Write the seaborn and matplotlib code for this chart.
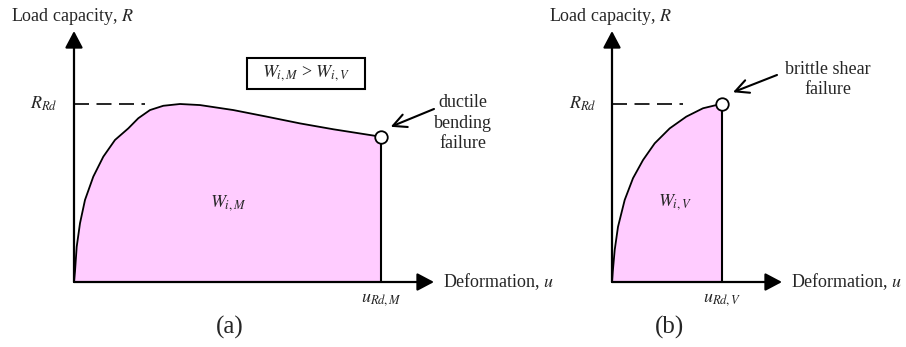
import matplotlib
matplotlib.use("Agg")
import matplotlib.pyplot as plt
from matplotlib.patches import Rectangle
import seaborn as sns

# Ductile (bending) response: deformation u and load R normalised to R_Rd
ductile_u = [0.0, 0.01, 0.027, 0.06, 0.11, 0.193, 0.293, 0.41, 0.543, 0.643, 0.76,
             0.893, 1.06, 1.26, 1.593, 1.927, 2.26, 2.593, 3.07]
ductile_R = [0.0, 0.06, 0.198, 0.33, 0.461, 0.592, 0.704, 0.798, 0.863, 0.92, 0.966,
             0.99, 1.0, 0.994, 0.966, 0.929, 0.891, 0.858, 0.816]

# Brittle (shear) response
brittle_u = [0.0, 0.008, 0.027, 0.06, 0.127, 0.21, 0.31, 0.427, 0.577, 0.743, 0.91, 1.043, 1.10]
brittle_R = [0.0, 0.06, 0.18, 0.31, 0.461, 0.583, 0.685, 0.779, 0.863, 0.929, 0.976, 0.994, 1.0]

R_RD = 1.0
panel_tags = ["(a)", "(b)"]
area_labels = [r"$W_{i,M}$", r"$W_{i,V}$"]
u_labels = [r"$u_{Rd,M}$", r"$u_{Rd,V}$"]
failure_labels = ["ductile\nbending\nfailure", "brittle shear\nfailure"]
y_title = r"Load capacity, $R$"
x_title = r"Deformation, $u$"
compare_label = r"$W_{i,M}$ > $W_{i,V}$"

sns.set_theme(style="white")
plt.rcParams["font.family"] = ["Liberation Serif", "DejaVu Serif"]
plt.rcParams["mathtext.fontset"] = "stix"

W, H = 906, 347
fig = plt.figure(figsize=(W / 100, H / 100), dpi=100)

PX_U = 100.0   # pixels per unit of u
PX_R = 178.0   # pixels per unit of R
origin_y = 282
axis_top = 31


def make_axes(x0, x_end):
    ax = fig.add_axes([x0 / W, (H - origin_y) / H, (x_end - x0) / W, (origin_y - axis_top) / H])
    ax.set_xlim(0, (x_end - x0) / PX_U)
    ax.set_ylim(0, (origin_y - axis_top) / PX_R)
    ax.axis("off")
    ax.patch.set_alpha(0)
    return ax


ax_a = make_axes(74, 434)
ax_b = make_axes(612, 782)

FS = 13
fill_col = "#FFCCFF"


def draw_panel(ax, u, R, tag, area, ulab, fail_text, text_xy, arrow_tail, arrow_head,
               area_xy, tag_x, title_x, rlab_x, box=False):
    xmax = ax.get_xlim()[1]
    ymax = ax.get_ylim()[1]
    u_end, R_end = u[-1], R[-1]

    ax.fill_between(u, 0, R, color=fill_col, lw=0, zorder=1)
    sns.lineplot(x=u, y=R, ax=ax, sort=False, estimator=None, color="black", lw=1.3, zorder=3)
    ax.plot([u_end, u_end], [0, R_end], color="black", lw=1.5, zorder=3, clip_on=False)

    # axes with filled arrow heads
    head = "-|>,head_length=0.85,head_width=0.45"
    ax.annotate("", xy=(xmax, 0), xytext=(0, 0), annotation_clip=False,
                arrowprops=dict(arrowstyle=head, lw=1.6, color="black", shrinkA=0, shrinkB=0))
    ax.annotate("", xy=(0, ymax), xytext=(0, 0), annotation_clip=False,
                arrowprops=dict(arrowstyle=head, lw=1.6, color="black", shrinkA=0, shrinkB=0))

    # design resistance level
    ax.plot([0, 0.71], [R_RD, R_RD], color="black", lw=1.2, dashes=(9, 4.5), zorder=2)

    # failure point
    ax.plot([u_end], [R_end], marker="o", ms=9, mfc="white", mec="black", mew=1.3,
            zorder=5, clip_on=False)

    ax.annotate("", xy=arrow_head, xytext=arrow_tail, annotation_clip=False,
                arrowprops=dict(arrowstyle="->,head_length=0.8,head_width=0.4", lw=1.5,
                                color="black", shrinkA=0, shrinkB=0))
    ax.text(*text_xy, fail_text, ha="center", va="center", fontsize=FS, linespacing=1.25,
            clip_on=False)

    ax.text(title_x, 1.494, y_title, ha="center", va="center", fontsize=FS, clip_on=False)
    ax.text(xmax + 0.09, 0, x_title, ha="left", va="center", fontsize=FS, clip_on=False)
    ax.text(rlab_x, R_RD, r"$R_{Rd}$", ha="right", va="center", fontsize=FS, clip_on=False)
    ax.text(u_end, -0.096, ulab, ha="center", va="center", fontsize=FS, clip_on=False)
    ax.text(*area_xy, area, ha="center", va="center", fontsize=FS, zorder=4)
    ax.text(tag_x, -0.258, tag, ha="center", va="center", fontsize=18, clip_on=False)

    if box:
        ax.add_patch(Rectangle((1.73, 1.086), 1.18, 0.174, fill=False, ec="black",
                               lw=1.5, clip_on=False))
        ax.text(2.32, 1.174, compare_label, ha="center", va="center", fontsize=FS,
                clip_on=False)


draw_panel(ax_a, ductile_u, ductile_R, panel_tags[0], area_labels[0], u_labels[0],
           failure_labels[0], text_xy=(3.89, 0.893), arrow_tail=(3.60, 0.972),
           arrow_head=(3.167, 0.872), area_xy=(1.54, 0.444), tag_x=1.56,
           title_x=-0.01, rlab_x=-0.16, box=True)

draw_panel(ax_b, brittle_u, brittle_R, panel_tags[1], area_labels[1], u_labels[1],
           failure_labels[1], text_xy=(2.16, 1.138), arrow_tail=(1.65, 1.163),
           arrow_head=(1.21, 1.066), area_xy=(0.63, 0.449), tag_x=0.58,
           title_x=-0.01, rlab_x=-0.15)

fig.savefig("out.png", dpi=100)
